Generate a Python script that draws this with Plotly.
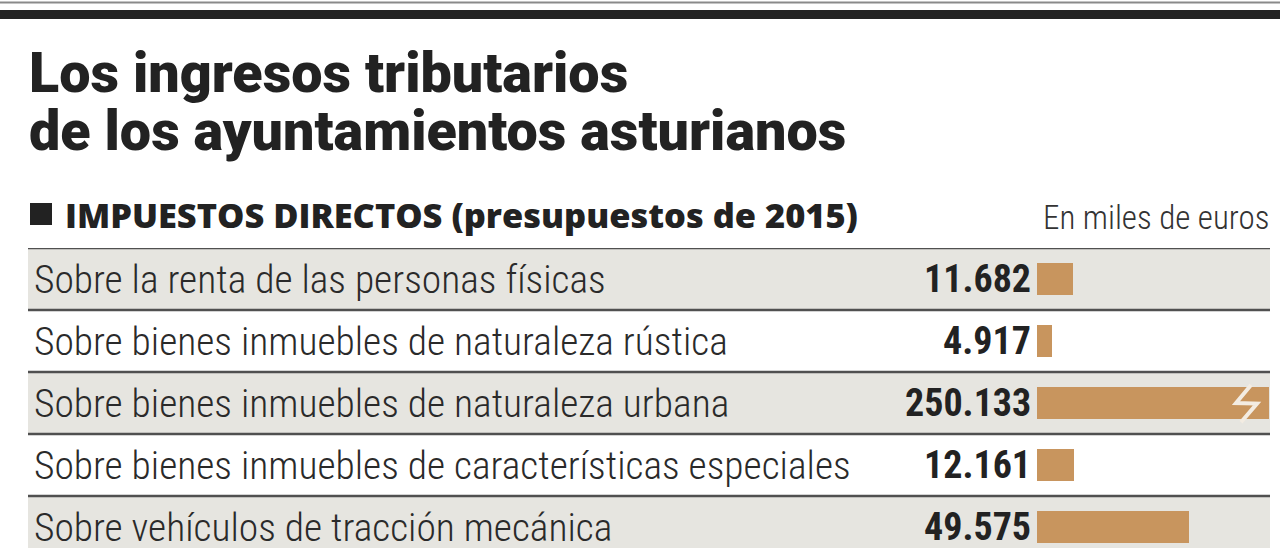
import plotly.graph_objects as go

categories = [
    "Sobre la renta de las personas físicas",
    "Sobre bienes inmuebles de naturaleza rústica",
    "Sobre bienes inmuebles de naturaleza urbana",
    "Sobre bienes inmuebles de características especiales",
    "Sobre vehículos de tracción mecánica",
]
values = [11682, 4917, 250133, 12161, 49575]
value_labels = ["11.682", "4.917", "250.133", "12.161", "49.575"]

title_lines = ["Los ingresos tributarios", "de los ayuntamientos asturianos"]
section_title = "IMPUESTOS DIRECTOS (presupuestos de 2015)"
unit_note = "En miles de euros"

W, H = 1280, 548
L, R, T, B = 1037, 11, 248, 0
PW, PH = W - L - R, H - T - B
XMAX = 75500
ROW_PX = 62
n = len(categories)
y_bottom = (n - 0.5) - (ROW_PX * n - PH) / ROW_PX


def px(xp):
    return (xp - L) / PW


def py(yp):
    return (H - yp - B) / PH


def xdata(xp):
    return (xp - L) / PW * XMAX


BAR = "#c8955e"
BAND = "#e6e5e0"
LINE = "#505050"
DARK = "#222222"
COND = "Roboto Condensed"
HEAVY = "Roboto"

fig = go.Figure()
fig.add_trace(go.Bar(
    x=values, y=list(range(n)), orientation="h", width=0.53,
    marker=dict(color=BAR, line=dict(width=0)), hoverinfo="skip",
))

shapes = []
for i in range(n):
    if i % 2 == 0:
        shapes.append(dict(type="rect", xref="paper", yref="y", layer="below",
                           x0=px(28), x1=px(1270), y0=i - 0.5, y1=i + 0.5,
                           fillcolor=BAND, line=dict(width=0)))
for i in range(n):
    shapes.append(dict(type="line", xref="paper", yref="y", layer="above",
                       x0=px(28), x1=px(1270), y0=i - 0.5, y1=i - 0.5,
                       line=dict(color=LINE, width=2.5)))
shapes.append(dict(type="line", xref="paper", yref="paper", x0=px(0), x1=px(W),
                   y0=py(2.5), y1=py(2.5), line=dict(color="#8a8a8a", width=2)))
shapes.append(dict(type="rect", xref="paper", yref="paper", x0=px(0), x1=px(W),
                   y0=py(10), y1=py(19), fillcolor=DARK, line=dict(width=0)))
shapes.append(dict(type="rect", xref="paper", yref="paper", x0=px(30), x1=px(52),
                   y0=py(203), y1=py(225), fillcolor=DARK, line=dict(width=0)))
# break symbol on the clipped (out-of-range) bar
bi = values.index(max(values))
path = (f"M {xdata(1251)},{bi - 0.29} L {xdata(1236)},{bi} "
        f"L {xdata(1257)},{bi + 0.01} L {xdata(1241)},{bi + 0.31}")
shapes.append(dict(type="path", xref="x", yref="y", path=path,
                   line=dict(color="#f3ece2", width=4)))

annotations = []
for k, (line, yc) in enumerate(zip(title_lines, [73, 131])):
    annotations.append(dict(text=line, xref="paper", yref="paper",
                            x=px(27), y=py(yc), xanchor="left", yanchor="middle",
                            showarrow=False,
                            font=dict(family=HEAVY, size=55.7, weight=900, color=DARK)))
annotations.append(dict(text=section_title, xref="paper", yref="paper",
                        x=px(63), y=py(215), xanchor="left", yanchor="middle",
                        showarrow=False,
                        font=dict(family="Open Sans", size=34.4, weight=800, color=DARK)))
annotations.append(dict(text=unit_note, xref="paper", yref="paper",
                        x=px(1271), y=py(217), xanchor="right", yanchor="middle",
                        showarrow=False,
                        font=dict(family=COND, size=33, weight=300, color="#333333")))
for i, (c, v) in enumerate(zip(categories, value_labels)):
    annotations.append(dict(text=c, xref="paper", yref="y", x=px(32), y=i,
                            xanchor="left", yanchor="middle", showarrow=False,
                            font=dict(family=COND, size=39.5, weight=300, color="#2a2a2a")))
    annotations.append(dict(text=v, xref="paper", yref="y", x=px(1033), y=i,
                            xanchor="right", yanchor="middle", showarrow=False,
                            font=dict(family=COND, size=38, weight=700, color=DARK)))

fig.update_layout(
    width=W, height=H,
    margin=dict(l=L, r=R, t=T, b=B, pad=0),
    paper_bgcolor="white", plot_bgcolor="rgba(0,0,0,0)",
    showlegend=False,
    xaxis=dict(range=[0, XMAX], visible=False, fixedrange=True),
    yaxis=dict(range=[y_bottom, -0.5], visible=False, fixedrange=True),
    shapes=shapes, annotations=annotations,
    bargap=0,
)

fig.write_html("out.html")
